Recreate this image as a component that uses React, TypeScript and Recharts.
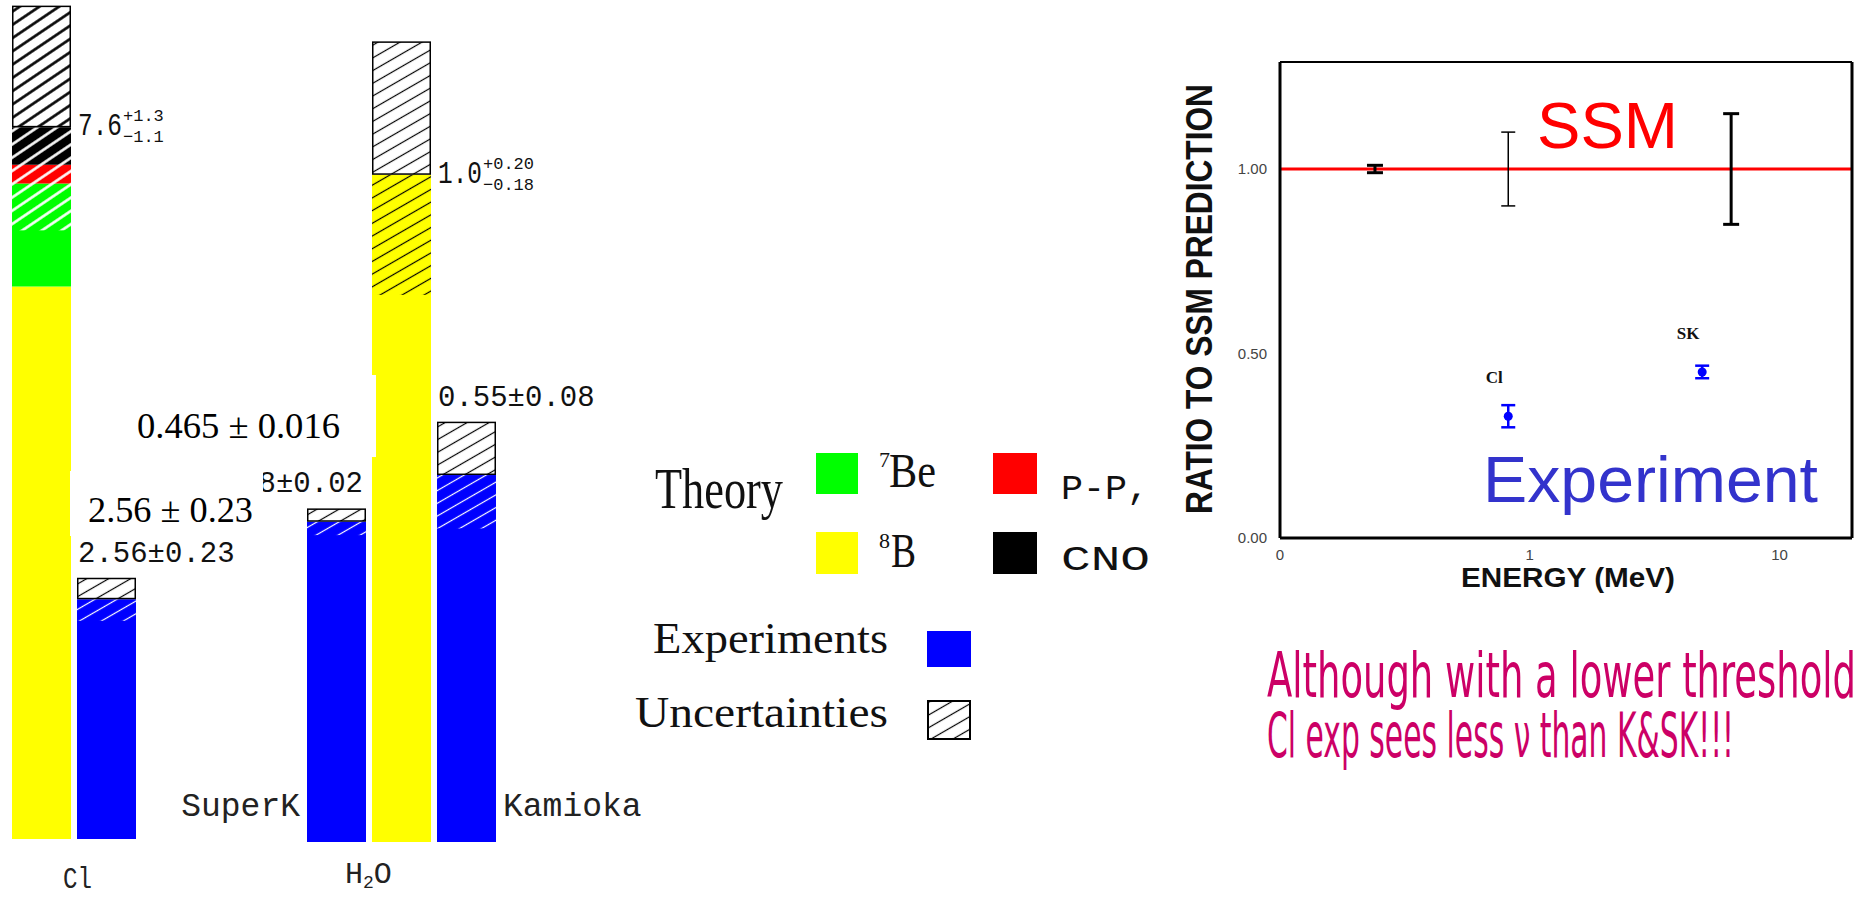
import { Bar, BarChart, ErrorBar, ReferenceLine, Scatter, ScatterChart, XAxis, YAxis } from "recharts"

// Homestake chlorine: BP98 prediction vs measurement (SNU)
const clBars = ["theory", "Cl"]
const clB8 = [5.9, 0]
const clBe7 = [1.1, 0]
const clPep = [0.2, 0]
const clCno = [0.4, 0]
const clExp = [0, 2.56]
const clErrUp = [1.3, 0.23]
const clErrDown = [1.1, 0.23]

// water Cherenkov: ratio to the SSM 8B flux
const waterBars = ["SuperK", "theory", "Kamioka"]
const waterB8 = [0, 1.0, 0]
const waterExp = [0.48, 0, 0.55]
const waterErrUp = [0.02, 0.2, 0.08]
const waterErrDown = [0.02, 0.18, 0.08]

// ratio to SSM prediction vs neutrino energy
const ssmSource = ["pp", "7Be", "8B"]
const ssmEnergy = [0.24, 0.82, 6.4]
const ssmRatio = [1, 1, 1]
const ssmErr = [0.01, 0.1, 0.15]
const expNames = ["Cl", "SK"]
const expEnergy = [0.82, 4.9]
const expRatio = [0.33, 0.45]
const expErr = [0.03, 0.017]

const energyTicks = [0.1, 1, 10]
const energyMinorTicks = [0.2, 0.3, 0.4, 0.5, 0.6, 0.7, 0.8, 0.9, 1, 2, 3, 4, 5, 6, 7, 8, 9, 10]
const ratioTicks = [0, 0.5, 1]
const ratioMinorTicks = [0.1, 0.2, 0.3, 0.4, 0.5, 0.6, 0.7, 0.8, 0.9, 1, 1.1, 1.2]

const YELLOW = "#ffff00"
const GREEN = "#00ff00"
const RED = "#ff0000"
const BLUE = "#0000ff"
const MONO = "'Liberation Mono', 'DejaVu Sans Mono', monospace"
const SERIF = "'Liberation Serif', 'DejaVu Serif', serif"
const SANS = "'Liberation Sans', Arial, sans-serif"
const NARROW = "'Liberation Sans Narrow', 'DejaVu Sans Condensed', 'Liberation Sans', sans-serif"

const clRows = clBars.map((bar, i) => ({
  bar,
  b8: clB8[i],
  be7: clBe7[i],
  pep: clPep[i],
  cno: clCno[i],
  exp: clExp[i],
  errUp: clErrUp[i],
  errDown: clErrDown[i],
}))

const waterRows = waterBars.map((bar, i) => ({
  bar,
  b8: waterB8[i],
  be7: 0,
  pep: 0,
  cno: 0,
  exp: waterExp[i],
  errUp: waterErrUp[i],
  errDown: waterErrDown[i],
}))

const ssmRows = ssmSource.map((source, i) => ({ source, energy: ssmEnergy[i], ratio: ssmRatio[i], err: ssmErr[i] }))
const expRows = expNames.map((name, i) => ({ name, energy: expEnergy[i], ratio: expRatio[i], err: expErr[i] }))

const valueAlign: Record<string, "start" | "end"> = { Cl: "start", SuperK: "end", Kamioka: "start" }
const nameSide: Record<string, "left" | "right"> = { SuperK: "left", Kamioka: "right" }

function Patterns() {
  const hatch = (id: string, color: string, w: number, bg?: string, angle = -30, gap = 11) => (
    <pattern id={id} patternUnits="userSpaceOnUse" width={12} height={gap} patternTransform={`rotate(${angle})`}>
      {bg && <rect width={12} height={gap} fill={bg} />}
      <line x1={0} y1={gap / 2} x2={12} y2={gap / 2} stroke={color} strokeWidth={w} />
    </pattern>
  )
  return (
    <svg width={0} height={0} style={{ position: "absolute" }}>
      <defs>
        {hatch("hatchBox", "#000", 1.2, "#fff")}
        {hatch("hatchBoxBold", "#000", 2.6, "#fff", -34, 11)}
        {hatch("hatchWhite", "#fff", 1.2)}
        {hatch("hatchWhiteBold", "#fff", 2.6, undefined, -34, 11)}
        {hatch("hatchBlack", "#000", 1.2)}
      </defs>
    </svg>
  )
}

function TheoryLabel({ x, y, value, up, down }: { x: number; y: number; value: string; up: string; down: string }) {
  return (
    <g fontFamily={MONO} fill="#111">
      <text x={x} y={y + 8} fontSize={31} textLength={44} lengthAdjust="spacingAndGlyphs">
        {value}
      </text>
      <text x={x + 45} y={y - 6} fontSize={17}>
        {up}
      </text>
      <text x={x + 45} y={y + 15} fontSize={17}>
        {down}
      </text>
    </g>
  )
}

// upper error as an outlined hatched box, lower error as hatching over the bar itself
function errorBox(chart: "cl" | "water") {
  return function ErrorBox(props: any) {
    const { x, y, width, height, payload } = props
    if (!height || height <= 0) return <g />
    const unit = height / payload.errUp
    const level = y + height
    const theory = payload.bar === "theory"
    const bold = theory && chart === "cl"
    const low = theory ? (chart === "cl" ? "hatchWhiteBold" : "hatchBlack") : "hatchWhite"
    const errDigits = theory && chart === "cl" ? 1 : 2
    let label = null
    if (theory) {
      const total = payload.b8 + payload.be7 + payload.pep + payload.cno
      label = (
        <TheoryLabel
          x={x + width + 7}
          y={level}
          value={total.toFixed(1)}
          up={`+${payload.errUp.toFixed(errDigits)}`}
          down={`\u2212${payload.errDown.toFixed(errDigits)}`}
        />
      )
    } else {
      const end = valueAlign[payload.bar] === "end"
      label = (
        <text
          x={end ? x + width - 3 : x + 1}
          y={y - 16}
          textAnchor={end ? "end" : "start"}
          fontFamily={MONO}
          fontSize={29}
          fill="#111"
        >
          {`${payload.exp.toFixed(2)}\u00b1${payload.errUp.toFixed(2)}`}
        </text>
      )
    }
    return (
      <g>
        <rect x={x} y={level} width={width} height={payload.errDown * unit} fill={`url(#${low})`} />
        <rect
          x={x + 0.75}
          y={y + 0.75}
          width={width - 1.5}
          height={height - 1.5}
          fill={`url(#${bold ? "hatchBoxBold" : "hatchBox"})`}
          stroke="#000"
          strokeWidth={1.5}
        />
        {label}
      </g>
    )
  }
}

function ExpBar(props: any) {
  const { x, y, width, height, payload } = props
  if (!height || height <= 0) return <g />
  const side = nameSide[payload.bar]
  return (
    <g>
      <rect x={x} y={y} width={width} height={height} fill={BLUE} />
      {side && (
        <text
          x={side === "left" ? x - 7 : x + width + 7}
          y={y + height - 26}
          textAnchor={side === "left" ? "end" : "start"}
          fontFamily={MONO}
          fontSize={33}
          fill="#222"
        >
          {payload.bar}
        </text>
      )}
    </g>
  )
}

function ClChart() {
  return (
    <div style={{ position: "absolute", left: 0, top: 0 }}>
      <BarChart width={300} height={898} data={clRows} margin={{ top: 0, right: 161, bottom: 59, left: 9 }} barSize={59} barGap={0} barCategoryGap={0}>
        <XAxis dataKey="bar" hide />
        <YAxis hide domain={[0, 8.96]} />
        <Bar dataKey="b8" stackId="s" fill={YELLOW} isAnimationActive={false} />
        <Bar dataKey="be7" stackId="s" fill={GREEN} isAnimationActive={false} />
        <Bar dataKey="pep" stackId="s" fill={RED} isAnimationActive={false} />
        <Bar dataKey="cno" stackId="s" fill="#000" isAnimationActive={false} />
        <Bar dataKey="exp" stackId="s" shape={ExpBar} isAnimationActive={false} />
        <Bar dataKey="errUp" stackId="s" shape={errorBox("cl")} isAnimationActive={false} />
      </BarChart>
    </div>
  )
}

function WaterChart() {
  return (
    <div style={{ position: "absolute", left: 0, top: 0 }}>
      <BarChart width={700} height={898} data={waterRows} margin={{ top: 0, right: 201, bottom: 56, left: 304 }} barSize={59} barGap={0} barCategoryGap={0}>
        <XAxis dataKey="bar" hide />
        <YAxis hide domain={[0, 1.262]} />
        <Bar dataKey="b8" stackId="s" fill={YELLOW} isAnimationActive={false} />
        <Bar dataKey="exp" stackId="s" shape={ExpBar} isAnimationActive={false} />
        <Bar dataKey="errUp" stackId="s" shape={errorBox("water")} isAnimationActive={false} />
      </BarChart>
    </div>
  )
}

function ExpPoint(props: any) {
  const { cx, cy, payload } = props
  return (
    <g>
      <circle cx={cx} cy={cy} r={4.5} fill={BLUE} />
      <text x={cx - 14} y={cy - 33} textAnchor="middle" fontFamily={SERIF} fontWeight="bold" fontSize={17} fill="#111">
        {payload.name}
      </text>
    </g>
  )
}

function RatioChart() {
  const tickFont = { fontFamily: SANS, fontSize: 15, fill: "#444" }
  return (
    <div style={{ position: "absolute", left: 1100, top: 0 }}>
      <ScatterChart width={769} height={640} margin={{ top: 62, right: 17, bottom: 52, left: 130 }}>
        <XAxis
          xAxisId="e"
          dataKey="energy"
          type="number"
          scale="log"
          domain={[0.1, 19.5]}
          ticks={energyTicks}
          interval={0}
          height={50}
          tickLine={false}
          tickMargin={5}
          axisLine={{ stroke: "#000", strokeWidth: 3 }}
          tick={tickFont}
          tickFormatter={(v: number) => (v < 1 ? "0" : String(v))}
        />
        <XAxis xAxisId="eIn" type="number" scale="log" domain={[0.1, 19.5]} ticks={energyMinorTicks} interval={0} mirror tick={false} tickSize={5} axisLine={false} tickLine={{ stroke: "#000", strokeWidth: 2 }} />
        <XAxis xAxisId="eTop" orientation="top" type="number" scale="log" domain={[0.1, 19.5]} ticks={energyMinorTicks} interval={0} mirror tick={false} tickSize={5} axisLine={{ stroke: "#000", strokeWidth: 2 }} tickLine={{ stroke: "#000", strokeWidth: 2 }} />
        <YAxis
          yAxisId="r"
          dataKey="ratio"
          type="number"
          domain={[0, 1.29]}
          ticks={ratioTicks}
          interval={0}
          width={50}
          tickLine={false}
          tickMargin={7}
          axisLine={{ stroke: "#000", strokeWidth: 3 }}
          tick={tickFont}
          tickFormatter={(v: number) => v.toFixed(2)}
        />
        <YAxis yAxisId="rIn" type="number" domain={[0, 1.29]} ticks={ratioMinorTicks} interval={0} mirror tick={false} tickSize={5} axisLine={false} tickLine={{ stroke: "#000", strokeWidth: 2 }} />
        <YAxis yAxisId="rRight" orientation="right" type="number" domain={[0, 1.29]} ticks={ratioMinorTicks} interval={0} mirror tick={false} tickSize={5} axisLine={{ stroke: "#000", strokeWidth: 3 }} tickLine={{ stroke: "#000", strokeWidth: 2 }} />
        <ReferenceLine xAxisId="e" yAxisId="r" y={1} stroke={RED} strokeWidth={3} />
        <Scatter xAxisId="e" yAxisId="r" data={ssmRows.filter((r) => r.source !== "7Be")} shape={() => <g />} isAnimationActive={false}>
          <ErrorBar dataKey="err" direction="y" width={8} stroke="#000" strokeWidth={3} />
        </Scatter>
        <Scatter xAxisId="e" yAxisId="r" data={ssmRows.filter((r) => r.source === "7Be")} shape={() => <g />} isAnimationActive={false}>
          <ErrorBar dataKey="err" direction="y" width={7} stroke="#000" strokeWidth={1.5} />
        </Scatter>
        <Scatter xAxisId="e" yAxisId="r" data={expRows} shape={ExpPoint} isAnimationActive={false}>
          <ErrorBar dataKey="err" direction="y" width={7} stroke={BLUE} strokeWidth={2.5} />
        </Scatter>
      </ScatterChart>
    </div>
  )
}

function Overlay() {
  const fit = { lengthAdjust: "spacingAndGlyphs" as const }
  // the closing remark is set in a tall condensed face
  const squeeze = 0.78
  return (
    <svg width={1869} height={898} style={{ position: "absolute", left: 0, top: 0 }}>
      {/* typeset values pasted over the bar chart */}
      <rect x={128} y={375} width={248} height={82} fill="#fff" />
      <text x={137} y={438} fontFamily={SERIF} fontSize={36} textLength={203} {...fit} fill="#000">
        0.465 ± 0.016
      </text>
      <rect x={70} y={471} width={193} height={65} fill="#fff" />
      <text x={88} y={522} fontFamily={SERIF} fontSize={36} textLength={165} {...fit} fill="#000">
        2.56 ± 0.23
      </text>

      <g fontFamily={MONO} fill="#222">
        <text x={63} y={888} fontSize={30} textLength={29} {...fit}>
          Cl
        </text>
        <text x={345} y={883} fontSize={30}>
          H
          <tspan fontSize={18} dy={5}>
            2
          </tspan>
          <tspan dy={-5}>O</tspan>
        </text>
      </g>

      {/* legend */}
      <g fontFamily={SERIF} fill="#111">
        <text x={655} y={508} fontSize={56} textLength={128} {...fit}>
          Theory
        </text>
        <rect x={816} y={453} width={42} height={41} fill={GREEN} />
        <text x={879} y={467} fontSize={22}>
          7
        </text>
        <text x={889} y={487} fontSize={48} textLength={47} {...fit}>
          Be
        </text>
        <rect x={816} y={532} width={42} height={42} fill={YELLOW} />
        <text x={879} y={548} fontSize={22}>
          8
        </text>
        <text x={891} y={567} fontSize={48} textLength={25} {...fit}>
          B
        </text>
        <rect x={993} y={453} width={44} height={41} fill={RED} />
        <rect x={993} y={532} width={44} height={42} fill="#000" />
        <text x={1061} y={499} fontFamily={MONO} fontSize={35} textLength={88} {...fit}>
          P-P,
        </text>
        <text x={1061} y={570} fontFamily={MONO} fontSize={35} textLength={89} {...fit}>
          CNO
        </text>
        <text x={653} y={653} fontSize={44} textLength={235} {...fit}>
          Experiments
        </text>
        <rect x={927} y={631} width={44} height={36} fill={BLUE} />
        <text x={635} y={727} fontSize={45} textLength={253} {...fit}>
          Uncertainties
        </text>
        <rect x={928} y={701} width={42} height={38} fill="url(#hatchBox)" stroke="#000" strokeWidth={2} />
      </g>

      {/* ratio panel titles */}
      <text
        transform="translate(1212 299) rotate(-90)"
        textAnchor="middle"
        fontFamily={SANS}
        fontWeight="bold"
        fontSize={36}
        textLength={430}
        {...fit}
        fill="#111"
      >
        RATIO TO SSM PREDICTION
      </text>
      <text x={1461} y={587} fontFamily={SANS} fontWeight="bold" fontSize={27} textLength={214} {...fit} fill="#111">
        ENERGY (MeV)
      </text>
      <text x={1537} y={148} fontFamily={SANS} fontSize={64} textLength={141} {...fit} fill={RED}>
        SSM
      </text>
      <text x={1483} y={502} fontFamily={SANS} fontSize={64} textLength={335} {...fit} fill="#3333cc">
        Experiment
      </text>

      <g fontFamily={NARROW} fontSize={62} fill="#cc0066">
        <text transform={`translate(1267 697) scale(${squeeze} 1)`} textLength={589 / squeeze} {...fit}>
          Although with a lower threshold
        </text>
        <text transform={`translate(1267 757) scale(${squeeze} 1)`} textLength={467 / squeeze} {...fit}>
          Cl exp sees less ν than K&amp;SK!!!
        </text>
      </g>
    </svg>
  )
}

export default function App() {
  return (
    <div style={{ position: "absolute", left: 0, top: 0, width: 1869, height: 898, background: "#fff", overflow: "hidden" }}>
      <Patterns />
      <ClChart />
      <WaterChart />
      <RatioChart />
      <Overlay />
    </div>
  )
}
